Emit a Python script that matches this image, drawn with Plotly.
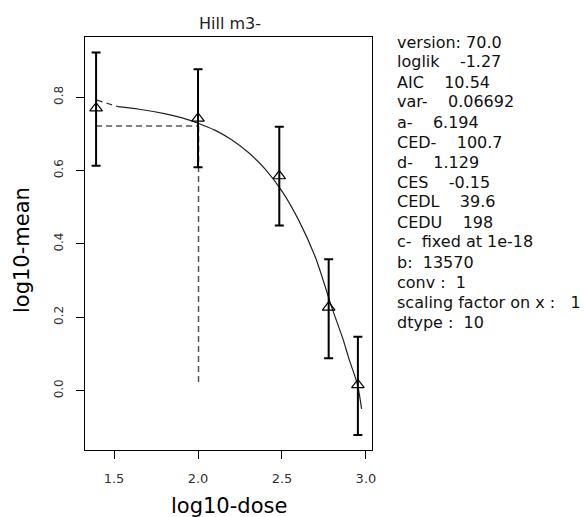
import plotly.graph_objects as go

# data
dose_log = [1.393, 2.0, 2.484, 2.778, 2.952]
mean_log = [0.770, 0.742, 0.585, 0.227, 0.0155]
upper_log = [0.922, 0.876, 0.719, 0.358, 0.147]
lower_log = [0.613, 0.609, 0.450, 0.088, -0.121]

curve_x = [1.524, 1.65, 1.80, 1.90, 2.00, 2.10, 2.20, 2.30, 2.40, 2.50,
           2.60, 2.70, 2.80, 2.86, 2.90, 2.95, 2.974]
curve_y = [0.774, 0.767, 0.755, 0.744, 0.729, 0.710, 0.684, 0.649, 0.604, 0.544,
           0.464, 0.362, 0.222, 0.145, 0.085, 0.015, -0.050]
extrap_x = [1.397, 1.524]
extrap_y = [0.792, 0.774]

ces_level = 0.7214
ced_log = 2.003
ced_bottom = 0.0155

info_lines = [
    "version: 70.0",
    "loglik    -1.27",
    "AIC    10.54",
    "var-    0.06692",
    "a-    6.194",
    "CED-    100.7",
    "d-    1.129",
    "CES    -0.15",
    "CEDL    39.6",
    "CEDU    198",
    "c-  fixed at 1e-18",
    "b:  13570",
    "conv :  1",
    "scaling factor on x :   1",
    "dtype :  10",
]

x_ticks = [1.5, 2.0, 2.5, 3.0]
y_ticks = [0.0, 0.2, 0.4, 0.6, 0.8]

FONT = "DejaVu Sans"
L, R, T, B = 85, 372, 37, 450
PW, PH = R - L, B - T

fig = go.Figure()

# CED dashed lines
fig.add_trace(go.Scatter(x=[dose_log[0], ced_log], y=[ces_level, ces_level], mode="lines",
                         line=dict(color="#555555", width=1.5, dash="6px,4px"), hoverinfo="skip"))
fig.add_trace(go.Scatter(x=[ced_log, ced_log], y=[ces_level, ced_bottom], mode="lines",
                         line=dict(color="#555555", width=1.5, dash="6px,4px"), hoverinfo="skip"))

# fitted curve
fig.add_trace(go.Scatter(x=extrap_x, y=extrap_y, mode="lines",
                         line=dict(color="#333333", width=1.2, dash="6px,4px"), hoverinfo="skip"))
fig.add_trace(go.Scatter(x=curve_x, y=curve_y, mode="lines", line_shape="spline",
                         line=dict(color="#222222", width=1.2, smoothing=0.8), hoverinfo="skip"))

# data points with error bars
fig.add_trace(go.Scatter(
    x=dose_log, y=mean_log, mode="markers",
    marker=dict(symbol="triangle-up-open", size=11, color="black", line=dict(width=1.2, color="black")),
    error_y=dict(type="data", symmetric=False,
                 array=[u - m for u, m in zip(upper_log, mean_log)],
                 arrayminus=[m - l for m, l in zip(mean_log, lower_log)],
                 color="black", thickness=2, width=4.5),
))


def px_x(p):
    return (p - L) / PW


def px_y(p):
    return (B - p) / PH


for i, line in enumerate(info_lines):
    ypx = 42 + i * 20
    fig.add_annotation(text=line, xref="paper", yref="paper",
                       x=px_x(395), y=px_y(ypx),
                       xanchor="left", yanchor="middle", showarrow=False,
                       font=dict(family=FONT, size=16, color="#111111"))

# title and axis titles
fig.add_annotation(text="Hill m3-", xref="paper", yref="paper", x=px_x(230), y=px_y(23),
                   xanchor="center", yanchor="middle", showarrow=False,
                   font=dict(family=FONT, size=16, color="#222222"))
fig.add_annotation(text="log10-dose", xref="paper", yref="paper", x=px_x(229), y=px_y(506),
                   xanchor="center", yanchor="middle", showarrow=False,
                   font=dict(family=FONT, size=21, color="black"))
fig.add_annotation(text="log10-mean", xref="paper", yref="paper", x=px_x(22), y=px_y(250),
                   xanchor="center", yanchor="middle", showarrow=False, textangle=-90,
                   font=dict(family=FONT, size=21, color="black"))

fig.update_layout(
    width=584, height=517,
    margin=dict(l=L, r=584 - R, t=T, b=517 - B),
    plot_bgcolor="white", paper_bgcolor="white",
    showlegend=False,
    font=dict(family=FONT, color="black"),
)
fig.update_xaxes(range=[1.327, 3.036], tickvals=x_ticks, ticktext=[f"{v:.1f}" for v in x_ticks],
                 showgrid=False, zeroline=False, showline=True, linecolor="black", linewidth=1.2,
                 mirror=True, ticks="outside", ticklen=8, tickcolor="black",
                 ticklabelstandoff=8,
                 tickfont=dict(family=FONT, size=13, color="#333333"))
fig.update_yaxes(range=[-0.162, 0.964], tickvals=y_ticks, ticktext=[f"{v:.1f}" for v in y_ticks],
                 tickangle=-90,
                 showgrid=False, zeroline=False, showline=True, linecolor="black", linewidth=1.2,
                 mirror=True, ticks="outside", ticklen=8, tickcolor="black",
                 ticklabelstandoff=8,
                 tickfont=dict(family=FONT, size=12, color="#333333"))

fig.write_html("out.html")
